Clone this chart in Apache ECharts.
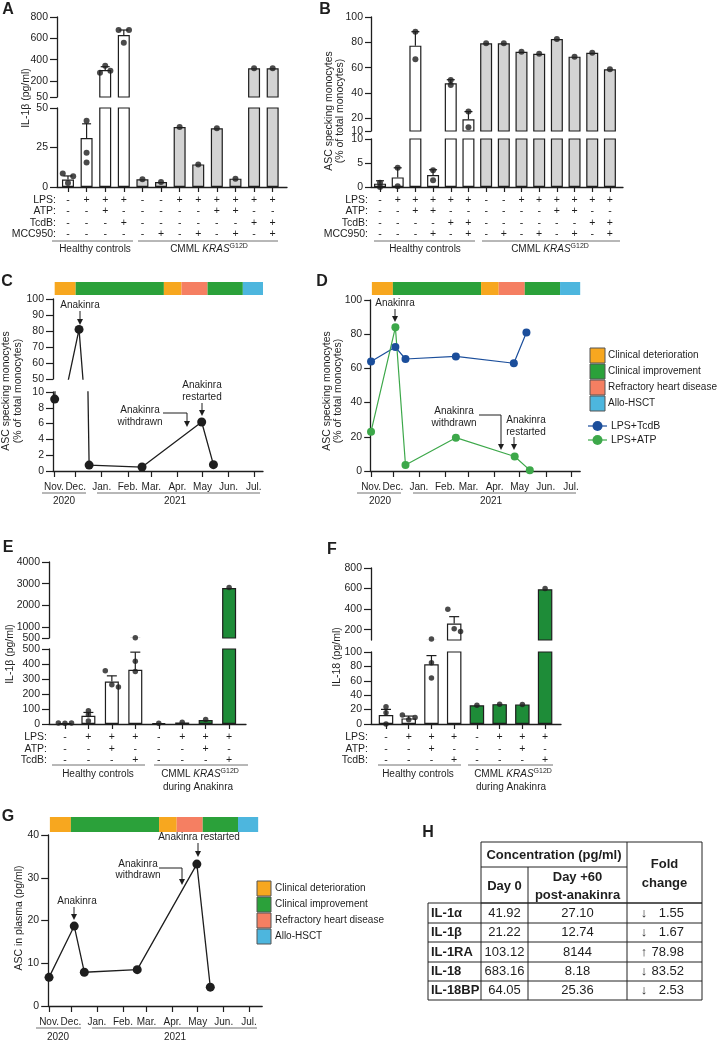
<!DOCTYPE html>
<html>
<head>
<meta charset="utf-8">
<style>html,body{margin:0;padding:0;background:#fff}#chart{width:718px;height:1040px}</style>
<script src="https://cdn.jsdelivr.net/npm/echarts@6/dist/echarts.min.js"></script>
</head>
<body>
<div id="chart"></div>
<script>
// ---------- data ----------
// A: IL-1b from monocytes
const aMean = [4.7, 31, 303, 631, 4.9, 3.2, 38, 14.3, 37.2, 5.3, 319, 319];
const aErr = [7, 40, 334, 678, null, null, null, null, null, null, null, null];
const aDots = [[8.5, 2.6, 6.8], [42, 21.7, 15.5], [278, 343, 297], [678, 559, 678], [4.9], [3.2], [38], [14.3], [37.2], [5.3], [319], [319]];
const aLPS = ['-', '+', '+', '+', '-', '-', '+', '+', '+', '+', '+', '+'];
const aATP = ['-', '-', '+', '-', '-', '-', '-', '-', '+', '+', '-', '-'];
const aTcdB = ['-', '-', '-', '+', '-', '-', '-', '-', '-', '-', '+', '+'];
const aMCC = ['-', '-', '-', '-', '-', '+', '-', '+', '-', '+', '-', '+'];
const aHealthy = 4;

// B: ASC specking monocytes (%)
const bMean = [0.7, 2.0, 77.4, 2.5, 47.7, 19.2, 79.2, 79.2, 72.6, 71, 82.6, 68.7, 71.8, 58.7];
const bErr = [1.3, 4.0, 88.4, 3.6, 50.5, 25.3, null, null, null, null, null, null, null, null];
const bDots = [[0.9, 0], [4.0, 0.15], [88.4, 66.6], [3.5, 1.4], [50.3, 46.3], [25.3, 12.9], [79.2], [79.2], [72.6], [71], [82.6], [68.7], [71.8], [58.7]];
const bLPS = ['-', '+', '+', '+', '+', '+', '-', '-', '+', '+', '+', '+', '+', '+'];
const bATP = ['-', '-', '+', '+', '-', '-', '-', '-', '-', '-', '+', '+', '-', '-'];
const bTcdB = ['-', '-', '-', '-', '+', '+', '-', '-', '-', '-', '-', '-', '+', '+'];
const bMCC = ['-', '-', '-', '+', '-', '+', '-', '+', '-', '+', '-', '+', '-', '+'];
const bHealthy = 6;

// E: IL-1b, F: IL-18
const eMean = [6, 55, 283, 362, 6, 10, 27, 2800];
const eErr = [null, 77, 321, 479, null, null, null, null];
const eDots = [[6, 5, 6], [89, 61, 20], [355, 261, 246], [515, 418, 350], [5], [12], [30], [2830]];
const fMean = [12.4, 7.8, 83, 260, 26, 27.6, 27.2, 594];
const fErr = [20.3, 11, 95, 327, null, null, null, null];
const fDots = [[24, 15.7, 0], [12.4, 6, 9], [110, 85, 64], [398, 209, 183], [26], [27.6], [27.2], [600]];
const efLPS = ['-', '+', '+', '+', '-', '+', '+', '+'];
const efATP = ['-', '-', '+', '-', '-', '-', '+', '-'];
const efTcdB = ['-', '-', '-', '+', '-', '-', '-', '+'];
const efHealthy = 4;

// time courses, x = days since 5 Nov 2020
const monthDays = [0, 26, 57, 88, 116, 147, 177, 208, 238];
const monthNames = ['Nov.', 'Dec.', 'Jan.', 'Feb.', 'Mar.', 'Apr.', 'May', 'Jun.', 'Jul.'];
const cDays = [1, 30, 42, 105, 176, 190];
const cVals = [9.1, 81, 0.75, 0.5, 6.2, 0.8];
const dDaysTcdB = [0, 29, 41, 101, 170, 185];
const dTcdB = [64, 72.5, 65.5, 67, 63, 81];
const dDaysATP = [0, 29, 41, 101, 171, 189];
const dATP = [23, 84, 3.5, 19.5, 8.5, 0.5];
const gDays = [0, 30, 42, 105, 176, 192];
const gVals = [6.7, 18.7, 7.9, 8.5, 33.2, 4.4];

// clinical phases (start, end in days) and their kind
const phaseStart = [1, 26, 131, 152, 183, 225];
const phaseEnd = [26, 131, 152, 183, 225, 249];
const phaseKind = [0, 1, 0, 2, 1, 3];
const phaseNames = ['Clinical deterioration', 'Clinical improvement', 'Refractory heart disease', 'Allo-HSCT'];
const phaseColors = ['#f7a71f', '#2ba13a', '#f57f62', '#4db6de'];

// H: table
const cytokines = ['IL-1α', 'IL-1β', 'IL-1RA', 'IL-18', 'IL-18BP'];
const day0 = ['41.92', '21.22', '103.12', '683.16', '64.05'];
const day60 = ['27.10', '12.74', '8144', '8.18', '25.36'];
const foldChange = ['1.55', '1.67', '78.98', '83.52', '2.53'];
const foldUp = [false, false, true, false, false];

// ---------- build ----------
const FONT = '"Liberation Sans", Arial, Helvetica, sans-serif';
const INK = '#1e1e1e';
const GRAYBAR = '#d3d3d3';
const GREENBAR = '#1e8c38';
const grid = [], xAxis = [], yAxis = [], series = [], els = [];

function T(x, y, text, o = {}) {
  els.push({
    type: 'text', x, y, rotation: o.rot || 0, z: 20, silent: true,
    style: {
      text, fill: INK, fontSize: o.size || 10, fontFamily: FONT,
      fontWeight: o.bold ? 'bold' : 'normal', align: o.align || 'center',
      verticalAlign: 'middle', rich: o.rich
    }
  });
}
function L(x1, y1, x2, y2, color, w) {
  els.push({ type: 'line', z: 20, silent: true, shape: { x1, y1, x2, y2 }, style: { stroke: color || INK, lineWidth: w || 1 } });
}
function R(x, y, w, h, fill, stroke) {
  els.push({ type: 'rect', z: 20, silent: true, shape: { x, y, width: w, height: h }, style: { fill: fill || 'none', stroke: stroke || null, lineWidth: 1 } });
}
function arrow(pts) {
  const n = pts.length;
  const [x1, y1] = pts[n - 2], [x2, y2] = pts[n - 1];
  const a = Math.atan2(y2 - y1, x2 - x1), len = 6, hw = 3;
  const bx = x2 - len * Math.cos(a), by = y2 - len * Math.sin(a);
  const line = pts.slice(0, n - 1).concat([[bx, by]]);
  els.push({ type: 'polyline', z: 20, silent: true, shape: { points: line }, style: { stroke: INK, lineWidth: 1, fill: null } });
  els.push({ type: 'polygon', z: 20, silent: true, shape: { points: [[x2, y2], [bx - hw * Math.sin(a), by + hw * Math.cos(a)], [bx + hw * Math.sin(a), by - hw * Math.cos(a)]] }, style: { fill: INK } });
}
const PI2 = Math.PI / 2;
const cmmlRich = {
  n: { fontSize: 10, fontFamily: FONT, fill: INK, lineHeight: 12 },
  i: { fontSize: 10, fontFamily: FONT, fill: INK, fontStyle: 'italic', lineHeight: 12 },
  s: { fontSize: 7, fontFamily: FONT, fill: INK, verticalAlign: 'top', lineHeight: 8 }
};
const cmmlText = '{n|CMML }{i|KRAS}{s|G12D}';

function yCfg(gi, s, tickLen, margin) {
  return {
    gridIndex: gi, type: 'value', min: s.min, max: s.max,
    axisLine: { show: true, onZero: false, lineStyle: { color: INK, width: 1.3 } },
    axisTick: { show: true, length: tickLen, customValues: s.ticks, lineStyle: { color: INK, width: 1.2 } },
    axisLabel: { customValues: s.ticks, fontSize: 10.5, color: INK, margin, fontFamily: FONT, formatter: v => String(v) },
    splitLine: { show: false }
  };
}

function errRenderer(capHalf) {
  return function (params, api) {
    const x = api.value(0);
    const a = api.coord([x, api.value(1)]);
    const b = api.coord([x, api.value(2)]);
    const st = { stroke: INK, lineWidth: 1.2 };
    return {
      type: 'group', children: [
        { type: 'line', shape: { x1: a[0], y1: a[1], x2: b[0], y2: b[1] }, style: st },
        { type: 'line', shape: { x1: b[0] - capHalf, y1: b[1], x2: b[0] + capHalf, y2: b[1] }, style: st }
      ]
    };
  };
}

function barPanel(p) {
  const n = p.mean.length;
  const idx = [...Array(n).keys()];
  const segPx = v => {
    const s = v > p.bot.max ? p.top : p.bot;
    return s.top + s.height - (v - s.min) / (s.max - s.min) * s.height;
  };
  // dots: spread sideways only when they would overlap
  const dotData = [];
  p.dots.forEach((ds, i) => {
    let spread = false;
    if (ds.length > 2) {
      for (let a = 0; a < ds.length; a++) for (let b = a + 1; b < ds.length; b++)
        if (Math.abs(segPx(ds[a]) - segPx(ds[b])) < 3) spread = true;
    }
    ds.forEach((v, k) => dotData.push([i + (spread ? (k - (ds.length - 1) / 2) * 0.28 : 0), v]));
  });
  [p.top, p.bot].forEach((s, k) => {
    const gi = grid.length;
    const isBottom = k === 1;
    grid.push({ left: p.left, top: s.top, width: p.width, height: s.height });
    xAxis.push({
      gridIndex: gi, type: 'value', min: p.xMin, max: p.xMax, show: isBottom,
      axisLine: { show: true, onZero: false, lineStyle: { color: INK, width: 1.3 } },
      axisTick: { show: true, length: 5, customValues: idx, lineStyle: { color: INK, width: 1.2 } },
      axisLabel: {
        customValues: idx, fontSize: 10.5, lineHeight: 11.5, margin: p.rowMargin, color: INK, fontFamily: FONT,
        formatter: v => p.rows.map(r => r[Math.round(v)]).join('\n')
      },
      splitLine: { show: false }
    });
    yAxis.push(yCfg(gi, s, p.tickLen, p.labMargin));
    series.push({
      type: 'bar', xAxisIndex: gi, yAxisIndex: gi, barWidth: p.barWidth, clip: true, silent: true, z: 2,
      data: idx.filter(i => p.mean[i] > s.min).map(i => ({
        value: [i, p.mean[i]],
        itemStyle: { color: i < p.healthy ? '#ffffff' : p.cmmlColor, borderColor: INK, borderWidth: 1.2 }
      }))
    });
    series.push({
      type: 'custom', xAxisIndex: gi, yAxisIndex: gi, clip: true, silent: true, z: 3,
      renderItem: errRenderer(p.capHalf),
      data: idx.filter(i => p.err[i] != null).map(i => [i, p.mean[i], p.err[i]])
    });
    series.push({
      type: 'scatter', xAxisIndex: gi, yAxisIndex: gi, clip: true, silent: true, z: 4,
      symbolSize: p.dotSize, itemStyle: { color: INK }, data: dotData
    });
  });
  // row titles
  const baseY = p.bot.top + p.bot.height + p.rowMargin + 11.5 / 2;
  p.rowNames.forEach((nm, r) => T(p.rowRight, baseY + r * 11.5, nm, { size: 10.5, align: 'right' }));
}

function monthAxis(gi, min, max, show) {
  return {
    gridIndex: gi, type: 'value', min, max, show,
    axisLine: { show: true, onZero: false, lineStyle: { color: INK, width: 1.3 } },
    axisTick: { show: true, length: 6, customValues: monthDays, lineStyle: { color: INK, width: 1.2 } },
    axisLabel: {
      customValues: monthDays, fontSize: 10, lineHeight: 12, margin: 10, color: INK, fontFamily: FONT,
      formatter: v => monthNames[monthDays.indexOf(v)]
    },
    splitLine: { show: false }
  };
}

function lineSeries(gi, days, vals, color, size, width) {
  series.push({
    type: 'line', xAxisIndex: gi, yAxisIndex: gi, clip: true, silent: true, z: 5,
    symbol: 'circle', symbolSize: size, showSymbol: true,
    itemStyle: { color }, lineStyle: { color, width },
    data: days.map((d, i) => [d, vals[i]])
  });
}

function phaseBar(left, top, width, height, min, max) {
  const gi = grid.length;
  grid.push({ left, top, width, height });
  xAxis.push({ gridIndex: gi, type: 'value', min, max, show: false });
  yAxis.push({ gridIndex: gi, type: 'value', min: 0, max: 1, show: false });
  series.push({
    type: 'custom', xAxisIndex: gi, yAxisIndex: gi, silent: true, clip: true,
    data: phaseStart.map((s, i) => [s, phaseEnd[i], phaseKind[i]]),
    renderItem: (params, api) => {
      const a = api.coord([api.value(0), 1]);
      const b = api.coord([api.value(1), 0]);
      return { type: 'rect', shape: { x: a[0], y: a[1], width: b[0] - a[0], height: b[1] - a[1] }, style: { fill: phaseColors[api.value(2)] } };
    }
  });
}

// ----- panel A -----
barPanel({
  left: 57, width: 230, xMin: -0.59, xMax: 11.77,
  top: { top: 17, height: 80, min: 50, max: 800, ticks: [50, 200, 400, 600, 800] },
  bot: { top: 108, height: 79, min: 0, max: 50, ticks: [0, 25, 50] },
  mean: aMean, err: aErr, dots: aDots, healthy: aHealthy, cmmlColor: GRAYBAR,
  rows: [aLPS, aATP, aTcdB, aMCC], rowNames: ['LPS:', 'ATP:', 'TcdB:', 'MCC950:'], rowRight: 56, rowMargin: 7,
  barWidth: 12, dotSize: 6, capHalf: 4.5, tickLen: 7, labMargin: 9
});
// ----- panel B -----
barPanel({
  left: 371, width: 252, xMin: -0.51, xMax: 13.74,
  top: { top: 17, height: 114, min: 10, max: 100, ticks: [10, 20, 40, 60, 80, 100] },
  bot: { top: 139, height: 48, min: 0, max: 10, ticks: [0, 5, 10] },
  mean: bMean, err: bErr, dots: bDots, healthy: bHealthy, cmmlColor: GRAYBAR,
  rows: [bLPS, bATP, bTcdB, bMCC], rowNames: ['LPS:', 'ATP:', 'TcdB:', 'MCC950:'], rowRight: 368, rowMargin: 7,
  barWidth: 12, dotSize: 6, capHalf: 4, tickLen: 6, labMargin: 8
});
// ----- panel E -----
barPanel({
  left: 49, width: 197, xMin: -0.68, xMax: 7.72,
  top: { top: 562, height: 76, min: 500, max: 4000, ticks: [500, 1000, 2000, 3000, 4000] },
  bot: { top: 649, height: 75, min: 0, max: 500, ticks: [0, 100, 200, 300, 400, 500] },
  mean: eMean, err: eErr, dots: eDots, healthy: efHealthy, cmmlColor: GREENBAR,
  rows: [efLPS, efATP, efTcdB], rowNames: ['LPS:', 'ATP:', 'TcdB:'], rowRight: 47, rowMargin: 7.5,
  barWidth: 14, dotSize: 5.5, capHalf: 5, tickLen: 7, labMargin: 9
});
// ----- panel F -----
barPanel({
  left: 371, width: 190, xMin: -0.66, xMax: 7.7,
  top: { top: 568, height: 72, min: 100, max: 800, ticks: [100, 200, 400, 600, 800] },
  bot: { top: 652, height: 72, min: 0, max: 100, ticks: [0, 20, 40, 60, 80, 100] },
  mean: fMean, err: fErr, dots: fDots, healthy: efHealthy, cmmlColor: GREENBAR,
  rows: [efLPS, efATP, efTcdB], rowNames: ['LPS:', 'ATP:', 'TcdB:'], rowRight: 368, rowMargin: 7.5,
  barWidth: 14.5, dotSize: 5.5, capHalf: 5, tickLen: 7, labMargin: 9
});

// ----- panel C (broken y) -----
[{ top: 299, height: 80, min: 50, max: 100, ticks: [50, 60, 70, 80, 90, 100] },
 { top: 392, height: 79, min: 0, max: 10, ticks: [0, 2, 4, 6, 8, 10] }].forEach((s, k) => {
  const gi = grid.length;
  grid.push({ left: 53, top: s.top, width: 210, height: s.height });
  xAxis.push(monthAxis(gi, -1, 249, k === 1));
  yAxis.push(yCfg(gi, s, 7, 9));
  lineSeries(gi, cDays, cVals, INK, 9, 1.3);
});
phaseBar(53, 282, 210, 13, -1, 249);

// ----- panel D -----
{
  const gi = grid.length;
  grid.push({ left: 370.2, top: 300, width: 210, height: 171 });
  xAxis.push(monthAxis(gi, -1, 249, true));
  yAxis.push(yCfg(gi, { min: 0, max: 100, ticks: [0, 20, 40, 60, 80, 100] }, 6, 8));
  lineSeries(gi, dDaysTcdB, dTcdB, '#1b4e9b', 8, 1.2);
  lineSeries(gi, dDaysATP, dATP, '#3da84a', 8, 1.2);
}
phaseBar(370.2, 282, 210, 13, -1, 249);

// ----- panel G -----
{
  const gi = grid.length;
  grid.push({ left: 48.2, top: 835, width: 214, height: 171 });
  xAxis.push(monthAxis(gi, -1, 253.8, true));
  yAxis.push(yCfg(gi, { min: 0, max: 40, ticks: [0, 10, 20, 30, 40] }, 7, 9));
  lineSeries(gi, gDays, gVals, INK, 9, 1.3);
}
phaseBar(48.2, 817, 214, 15, -1, 253.8);

// ----- panel letters -----
[['A', 8, 10], ['B', 325, 10], ['C', 7, 282], ['D', 322, 282], ['E', 8, 548], ['F', 332, 550], ['G', 8, 817], ['H', 428, 833]]
  .forEach(([t, x, y]) => T(x, y, t, { size: 16, bold: true }));

// ----- axis titles -----
T(26, 98, 'IL-1β (pg/ml)', { rot: PI2, size: 10.5 });
T(329, 111, 'ASC specking monocytes', { rot: PI2, size: 10.5 });
T(340, 111, '(% of total monocytes)', { rot: PI2, size: 10.5 });
T(6, 391, 'ASC specking monocytes', { rot: PI2, size: 10.5 });
T(18, 391, '(% of total monocytes)', { rot: PI2, size: 10.5 });
T(327, 391, 'ASC specking monocytes', { rot: PI2, size: 10.5 });
T(338, 391, '(% of total monocytes)', { rot: PI2, size: 10.5 });
T(10, 654, 'IL-1β (pg/ml)', { rot: PI2, size: 10.5 });
T(337, 657, 'IL-18 (pg/ml)', { rot: PI2, size: 10.5 });
T(19, 918, 'ASC in plasma (pg/ml)', { rot: PI2, size: 10.5 });

// ----- group brackets -----
const GL = '#707070';
L(52, 241, 133, 241, GL); L(138, 241, 278, 241, GL);
T(95, 249, 'Healthy controls'); T(209, 249, cmmlText, { rich: cmmlRich });
L(374, 241, 475, 241, GL); L(482, 241, 620, 241, GL);
T(425, 249, 'Healthy controls'); T(550, 249, cmmlText, { rich: cmmlRich });
L(52, 765, 145, 765, GL); L(154, 765, 248, 765, GL);
T(98, 774, 'Healthy controls'); T(200, 774, cmmlText, { rich: cmmlRich }); T(198, 787, 'during Anakinra');
L(378, 765, 461, 765, GL); L(468, 765, 553, 765, GL);
T(418, 774, 'Healthy controls'); T(513, 774, cmmlText, { rich: cmmlRich }); T(511, 787, 'during Anakinra');

// ----- year brackets -----
L(42, 493, 86, 493, GL); L(97, 493, 260, 493, GL); T(64, 501, '2020'); T(175, 501, '2021');
L(357, 493, 401, 493, GL); L(413, 493, 576, 493, GL); T(380, 501, '2020'); T(491, 501, '2021');
L(36, 1028, 81, 1028, GL); L(92, 1028, 257, 1028, GL); T(58, 1037, '2020'); T(175, 1037, '2021');

// ----- annotations -----
T(80, 305, 'Anakinra'); arrow([[80, 311], [80, 325]]);
T(202, 385, 'Anakinra'); T(202, 397, 'restarted'); arrow([[202, 403], [202, 416]]);
T(140, 410, 'Anakinra'); T(140, 422, 'withdrawn'); arrow([[163, 413], [187, 413], [187, 427]]);
T(395, 303, 'Anakinra'); arrow([[395, 309], [395, 322]]);
T(454, 411, 'Anakinra'); T(454, 423, 'withdrawn'); arrow([[479, 415], [501, 415], [501, 450]]);
T(526, 420, 'Anakinra'); T(526, 432, 'restarted'); arrow([[514, 437], [514, 450]]);
T(77, 901, 'Anakinra'); arrow([[74, 907], [74, 920]]);
T(199, 837, 'Anakinra restarted'); arrow([[198, 843], [198, 857]]);
T(138, 864, 'Anakinra'); T(138, 875, 'withdrawn'); arrow([[159, 868], [182, 868], [182, 885]]);

// ----- legends -----
phaseNames.forEach((nm, i) => {
  R(590, 348 + i * 16, 15, 15, phaseColors[i], '#555');
  T(608, 355.5 + i * 16, nm, { align: 'left' });
  R(257, 881 + i * 16, 14, 15, phaseColors[i], '#555');
  T(275, 888.5 + i * 16, nm, { align: 'left' });
});
[['LPS+TcdB', '#1b4e9b', 426], ['LPS+ATP', '#3da84a', 440]].forEach(([nm, c, y]) => {
  L(588, y, 607, y, c, 1.2);
  els.push({ type: 'circle', z: 21, silent: true, shape: { cx: 597.5, cy: y, r: 5 }, style: { fill: c } });
  T(611, y, nm, { align: 'left', size: 10.5 });
});

// ----- table H -----
const TB = '#222';
R(481, 842, 221, 61, null, TB);
L(627, 842, 627, 903, TB); L(528, 867, 528, 903, TB); L(481, 867, 627, 867, TB);
R(428, 903, 274, 97, null, TB);
[923, 942, 962, 981].forEach(y => L(428, y, 702, y, TB));
[481, 528, 627].forEach(x => L(x, 903, x, 1000, TB));
T(554, 855, 'Concentration (pg/ml)', { size: 13, bold: true });
T(504.5, 886, 'Day 0', { size: 13, bold: true });
T(577.5, 877, 'Day +60', { size: 13, bold: true });
T(577.5, 895, 'post-anakinra', { size: 13, bold: true });
T(664.5, 864, 'Fold', { size: 13, bold: true });
T(664.5, 883, 'change', { size: 13, bold: true });
const rowMid = [913, 932.5, 952, 971.5, 990.5];
cytokines.forEach((c, i) => {
  T(431, rowMid[i], c, { size: 13, bold: true, align: 'left' });
  T(504.5, rowMid[i], day0[i], { size: 13 });
  T(577.5, rowMid[i], day60[i], { size: 13 });
  T(644, rowMid[i], foldUp[i] ? '↑' : '↓', { size: 13 });
  T(684, rowMid[i], foldChange[i], { size: 13, align: 'right' });
});

const chart = echarts.init(document.getElementById('chart'), null, { renderer: 'canvas' });
chart.setOption({
  animation: false,
  backgroundColor: '#ffffff',
  textStyle: { fontFamily: FONT },
  grid, xAxis, yAxis, series,
  graphic: { elements: els }
});
</script>
</body>
</html>
